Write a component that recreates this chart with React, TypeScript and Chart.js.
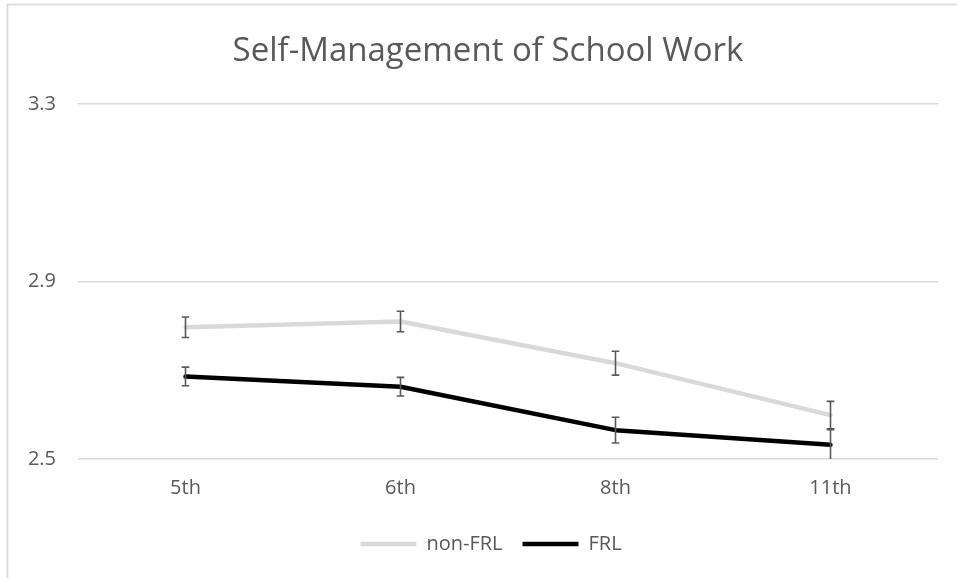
import React, { useEffect, useRef } from "react";
import { Chart, registerables } from "chart.js";

Chart.register(...registerables);

const TITLE = "Self-Management of School Work";
const categories = ["5th", "6th", "8th", "11th"];
const nonFrlValues = [2.797, 2.81, 2.716, 2.599];
const nonFrlErrors = [0.023, 0.023, 0.027, 0.031];
const frlValues = [2.686, 2.663, 2.565, 2.532];
const frlErrors = [0.021, 0.021, 0.029, 0.034];
const yMin = 2.5;
const yMax = 3.3;
const yStep = 0.4;

const TEXT = "#595959";
const GRID = "#d9d9d9";
const FONT = "'Open Sans', 'Noto Sans', sans-serif";

const errorBarPlugin = {
  id: "errorBars",
  afterDatasetDraw(chart: any, args: any) {
    const ds: any = chart.data.datasets[args.index];
    const errs: number[] | undefined = ds.errors;
    if (!errs) return;
    const meta = chart.getDatasetMeta(args.index);
    const yScale = chart.scales.y;
    const area = chart.chartArea;
    const ctx = chart.ctx;
    ctx.save();
    ctx.beginPath();
    ctx.rect(area.left, area.top - 1, area.right - area.left, area.bottom - area.top + 1);
    ctx.clip();
    ctx.strokeStyle = "#595959";
    ctx.lineWidth = 1.6;
    meta.data.forEach((pt: any, i: number) => {
      const v = ds.data[i];
      const e = errs[i];
      const x = pt.x;
      const yTop = yScale.getPixelForValue(v + e);
      const yBot = yScale.getPixelForValue(v - e);
      ctx.beginPath();
      ctx.moveTo(x, yTop);
      ctx.lineTo(x, yBot);
      ctx.moveTo(x - 3.8, yTop);
      ctx.lineTo(x + 3.8, yTop);
      ctx.moveTo(x - 3.8, yBot);
      ctx.lineTo(x + 3.8, yBot);
      ctx.stroke();
    });
    ctx.restore();
  },
};

const borderPlugin = {
  id: "outerBorder",
  afterLayout(chart: any) {
    const tb = chart.titleBlock;
    if (tb) {
      tb.left = tb.left + 38;
      tb.width = tb.right - tb.left;
    }
    const lg = chart.legend;
    if (lg) {
      lg.left = lg.left + 44;
      lg.width = lg.right - lg.left;
    }
  },
  beforeDraw(chart: any) {
    const ctx = chart.ctx;
    ctx.save();
    ctx.fillStyle = "#ffffff";
    ctx.fillRect(0, 0, chart.width, chart.height);
    ctx.strokeStyle = GRID;
    ctx.lineWidth = 1.8;
    ctx.strokeRect(7.5, 4.5, chart.width + 20, chart.height + 20);
    ctx.restore();
  },
};

export default function App() {
  const ref = useRef<HTMLCanvasElement | null>(null);

  useEffect(() => {
    document.body.style.margin = "0";
    const canvas = ref.current;
    if (!canvas) return;
    const chart = new Chart(canvas, {
      type: "line",
      data: {
        labels: categories,
        datasets: [
          {
            label: "non-FRL",
            data: nonFrlValues,
            errors: nonFrlErrors,
            borderColor: "#d9d9d9",
            backgroundColor: "#d9d9d9",
            borderWidth: 4.5,
            pointRadius: 0,
            borderCapStyle: "round",
            borderJoinStyle: "round",
            tension: 0,
          } as any,
          {
            label: "FRL",
            data: frlValues,
            errors: frlErrors,
            borderColor: "#000000",
            backgroundColor: "#000000",
            borderWidth: 4.5,
            pointRadius: 0,
            borderCapStyle: "round",
            borderJoinStyle: "round",
            tension: 0,
          } as any,
        ],
      },
      options: {
        responsive: false,
        animation: false,
        devicePixelRatio: 1,
        layout: { padding: { left: 0, right: 19, top: 0, bottom: 14 } },
        plugins: {
          title: {
            display: true,
            text: TITLE,
            color: TEXT,
            font: { family: FONT, size: 33, weight: "normal" },
            padding: { top: 32, bottom: 32.5 },
          },
          legend: {
            display: true,
            position: "bottom",
            labels: {
              color: TEXT,
              font: { family: FONT, size: 20 },
              usePointStyle: true,
              pointStyle: "line",
              pointStyleWidth: 56,
              boxHeight: 20,
              padding: 20,
            },
          },
          tooltip: { enabled: false },
        },
        scales: {
          x: {
            offset: true,
            grid: { display: false, drawTicks: false },
            border: { display: false },
            ticks: {
              color: TEXT,
              font: { family: FONT, size: 20 },
              padding: 17,
            },
            afterFit(scale: any) {
              scale.height = 55;
            },
          },
          y: {
            min: yMin,
            max: yMax,
            grid: { color: GRID, lineWidth: 1.4, drawTicks: false },
            border: { display: false },
            ticks: {
              stepSize: yStep,
              color: TEXT,
              font: { family: FONT, size: 20 },
              padding: 22,
              callback: (v: any) => Number(v).toFixed(1),
            },
            afterFit(scale: any) {
              scale.width = 78;
            },
          },
        },
      } as any,
      plugins: [errorBarPlugin, borderPlugin],
    });
    return () => chart.destroy();
  }, []);

  return <canvas ref={ref} width={957} height={578} style={{ display: "block" }} />;
}
